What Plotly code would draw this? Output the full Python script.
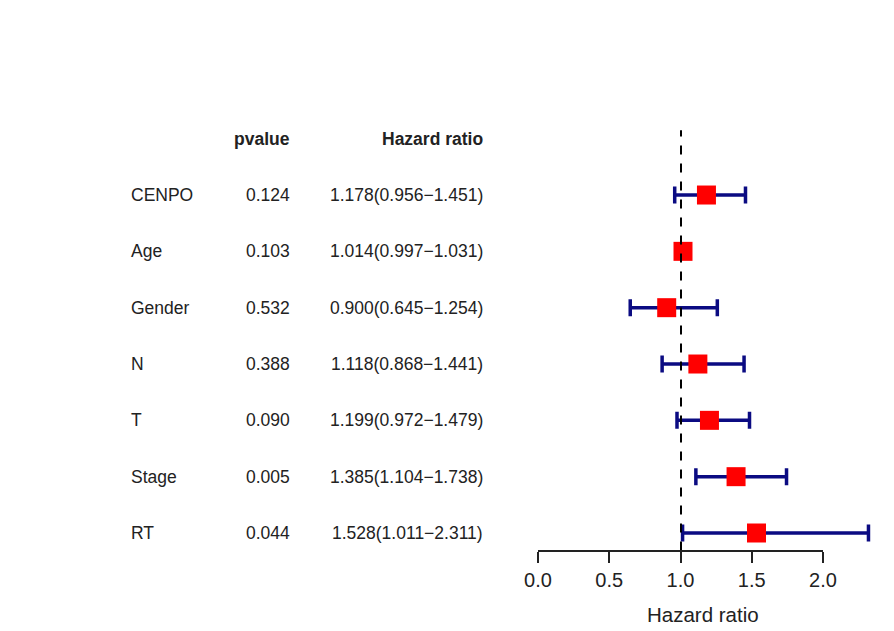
import plotly.graph_objects as go

# forest plot data (univariate cox)
labels = ["CENPO", "Age", "Gender", "N", "T", "Stage", "RT"]
pvalue = ["0.124", "0.103", "0.532", "0.388", "0.090", "0.005", "0.044"]
hr = [1.178, 1.014, 0.900, 1.118, 1.199, 1.385, 1.528]
hr_low = [0.956, 0.997, 0.645, 0.868, 0.972, 1.104, 1.011]
hr_high = [1.451, 1.031, 1.254, 1.441, 1.479, 1.738, 2.311]
tick_vals = [0.0, 0.5, 1.0, 1.5, 2.0]

W, H = 894, 631
OFF = 8  # page body margin
font = "Liberation Sans, Arial, sans-serif"


def px(x):
    return (x - OFF) / W


def py(y):
    return 1 - (y - OFF) / H


ypos = list(range(len(labels), 0, -1))
header_y = len(labels) + 1
hr_text = ["%.3f(%.3f\u2212%.3f)" % (h, l, u) for h, l, u in zip(hr, hr_low, hr_high)]

fig = go.Figure()

fig.add_trace(go.Scatter(
    x=hr, y=ypos, mode="markers",
    marker=dict(symbol="square", size=19, color="#ff0000", line=dict(width=0)),
    error_x=dict(type="data", symmetric=False,
                 array=[u - h for h, u in zip(hr, hr_high)],
                 arrayminus=[h - l for h, l in zip(hr, hr_low)],
                 color="#0b0b82", thickness=3.5, width=8.5),
    hoverinfo="x+y", showlegend=False,
))

# invisible trace that carries the tick axis
fig.add_trace(go.Scatter(x=tick_vals, y=[ypos[-1]] * len(tick_vals), xaxis="x2",
                         mode="markers", marker=dict(opacity=0), showlegend=False,
                         hoverinfo="skip"))

# reference line at HR = 1
fig.add_shape(type="line", x0=1, x1=1, y0=0.69, y1=header_y + 0.15,
              xref="x", yref="y", line=dict(color="black", width=2, dash="dash"))

px_per_unit = 143
ann = []
ann.append(dict(x=px(292), y=header_y, text="<b>pvalue</b>", xanchor="right"))
ann.append(dict(x=px(485), y=header_y, text="<b>Hazard ratio</b>", xanchor="right"))
for lab, p, t, y in zip(labels, pvalue, hr_text, ypos):
    ann.append(dict(x=px(129), y=y, text=lab, xanchor="left"))
    ann.append(dict(x=px(292), y=y, text=p, xanchor="right"))
    ann.append(dict(x=px(485), y=y, text=t, xanchor="right"))
for a in ann:
    a.update(xref="paper", yref="y", showarrow=False, yanchor="middle",
             font=dict(family=font, size=17.5, color="#222"))
ann.append(dict(x=px(703), y=py(614), xref="paper", yref="paper",
                xanchor="center", yanchor="middle",
                text="Hazard ratio", showarrow=False,
                font=dict(family=font, size=20.5, color="#222")))

row_px = 56.33
fig.update_layout(
    width=W, height=H,
    margin=dict(l=0, r=0, t=0, b=0, autoexpand=False),
    plot_bgcolor="rgba(0,0,0,0)", paper_bgcolor="white",
    annotations=ann,
    xaxis=dict(domain=[px(538), 1], range=[0, (W + OFF - 538) / px_per_unit],
               visible=False, fixedrange=True),
    xaxis2=dict(domain=[px(538), px(823)], range=[0, 2], anchor="y",
                tickvals=tick_vals, ticktext=["%.1f" % v for v in tick_vals],
                showline=True, linecolor="#222", linewidth=1.5,
                ticks="outside", ticklen=11, tickwidth=1.5, tickcolor="#222",
                showgrid=False, zeroline=False,
                tickfont=dict(family=font, size=20, color="#222")),
    yaxis=dict(domain=[py(550), 1],
               range=[1 - 17 / row_px, 1 + (533 - OFF) / row_px],
               visible=False, fixedrange=True),
)

fig.write_html("out.html")
